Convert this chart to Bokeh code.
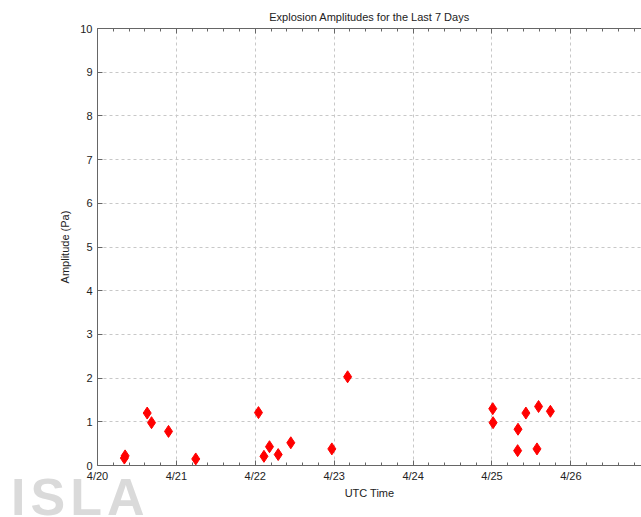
import pandas as pd
from bokeh.plotting import figure
from bokeh.layouts import column
from bokeh.models import FixedTicker, LinearAxis, Range1d, Div
from bokeh.embed import file_html
from bokeh.resources import INLINE

# explosion times (UTC) and amplitudes (Pa)
times = [
    "2015-04-20 08:10", "2015-04-20 08:24", "2015-04-20 15:07", "2015-04-20 16:26",
    "2015-04-20 21:36", "2015-04-21 05:53", "2015-04-22 00:58", "2015-04-22 02:38",
    "2015-04-22 04:19", "2015-04-22 06:58", "2015-04-22 10:48", "2015-04-22 23:17",
    "2015-04-23 04:05", "2015-04-25 00:14", "2015-04-25 00:20", "2015-04-25 07:55",
    "2015-04-25 07:48", "2015-04-25 10:19", "2015-04-25 13:41", "2015-04-25 14:10",
    "2015-04-25 17:46",
]
amplitudes = [
    0.17, 0.22, 1.20, 0.98,
    0.78, 0.15, 1.21, 0.21,
    0.43, 0.25, 0.52, 0.38,
    2.03, 1.30, 0.98, 0.83,
    0.34, 1.20, 0.38, 1.35,
    1.24,
]
day_dates = ["2015-04-20", "2015-04-21", "2015-04-22", "2015-04-23",
             "2015-04-24", "2015-04-25", "2015-04-26", "2015-04-27"]
day_labels = ["4/20", "4/21", "4/22", "4/23", "4/24", "4/25", "4/26", "4/27"]
y_ticks = list(range(0, 11))

DAY = 86400000
t = pd.to_datetime(times)
day_ms = [pd.Timestamp(d).value // 10**6 for d in day_dates]
minor_ms = [d + k * DAY / 5 for d in day_ms for k in range(1, 5)]

FONT = "Liberation Sans"
INK = "#222222"
AXIS = "#666666"

p = figure(x_axis_type="datetime", frame_width=544, frame_height=437,
           x_range=Range1d(day_ms[0], day_ms[0] + 6.895 * DAY),
           y_range=Range1d(0, 10),
           output_backend="svg", toolbar_location=None,
           min_border_left=97, min_border_right=0, min_border_top=28, min_border_bottom=40,
           title="Explosion Amplitudes for the Last 7 Days")
p.outline_line_color = None

p.title.align = "center"
p.title.text_font = FONT
p.title.text_font_size = "11px"
p.title.text_font_style = "normal"
p.title.text_color = INK
p.title.standoff = 11

p.scatter(t, amplitudes, marker="diamond", size=12, color="red")

xt = FixedTicker(ticks=day_ms, minor_ticks=minor_ms)
bottom = p.below[0]
left = p.left[0]
bottom.ticker = xt
bottom.major_label_overrides = {d: lab for d, lab in zip(day_ms, day_labels)}
bottom.axis_label = "UTC Time"
left.ticker = FixedTicker(ticks=y_ticks)
left.axis_label = "Amplitude (Pa)"

top = LinearAxis(ticker=xt)
p.add_layout(top, "above")

for ax in [bottom, left, top]:
    ax.axis_line_color = AXIS
    ax.major_tick_line_color = AXIS
    ax.minor_tick_line_color = AXIS
    ax.major_tick_in = 5
    ax.major_tick_out = 0
    ax.minor_tick_in = 3
    ax.minor_tick_out = 0
    ax.major_label_text_font = FONT
    ax.major_label_text_font_size = "11px"
    ax.major_label_text_color = INK
    ax.axis_label_text_font = FONT
    ax.axis_label_text_font_size = "11px"
    ax.axis_label_text_font_style = "normal"
    ax.axis_label_text_color = INK
left.minor_tick_line_color = None
left.major_label_standoff = 5
left.axis_label_standoff = 6
bottom.major_label_standoff = 4
bottom.axis_label_standoff = 2
top.major_label_text_font_size = "0px"
top.major_label_text_color = None
top.major_label_standoff = 0

p.xgrid.ticker = xt
p.ygrid.ticker = FixedTicker(ticks=y_ticks)
p.grid.grid_line_color = "#c8c8c8"
p.grid.grid_line_dash = "3 3"

# grey ISLA logo in the lower left corner, pulled up over the plot's bottom margin
logo = Div(text="ISLA", styles={
    "margin-top": "-25px", "margin-left": "11px",
    "font-family": "'Liberation Sans'", "font-size": "52px", "font-weight": "bold",
    "line-height": "34px", "letter-spacing": "5px", "color": "#dadada",
})

layout = column(p, logo, spacing=0)
open("out.html", "w").write(file_html(layout, INLINE))
